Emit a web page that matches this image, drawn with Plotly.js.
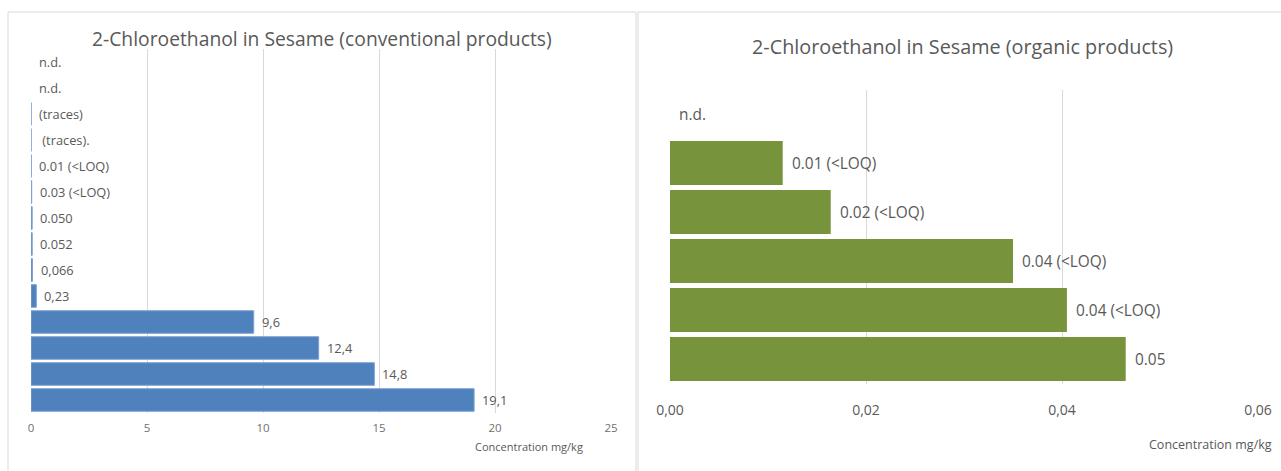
<!DOCTYPE html>
<html>
<head>
<meta charset="utf-8">
<script src="https://cdn.plot.ly/plotly-3.0.1.min.js"></script>
<style>
  html, body { margin: 0; padding: 0; background: #ffffff; }
  #chart { width: 1281px; height: 471px; }
</style>
</head>
<body>
<div id="chart"></div>
<script>
// Conventional sesame samples, top to bottom
const convLabels = ["n.d.", "n.d.", "(traces)", "\u00a0(traces).", "0.01 (<LOQ)", "0.03 (<LOQ)",
                    "0.050", "0.052", "0,066", "0,23", "9,6", "12,4", "14,8", "19,1"];
const convValues = [0, 0, 0.005, 0.005, 0.01, 0.03, 0.050, 0.052, 0.066, 0.23, 9.6, 12.4, 14.8, 19.1];

// Organic sesame samples, top to bottom
const orgLabels = ["n.d.", "0.01 (<LOQ)", "0.02 (<LOQ)", "0.04 (<LOQ)", "0.04 (<LOQ)", "0.05"];
const orgValues = [0, 0.0115, 0.0164, 0.0350, 0.0405, 0.0465];

const convTicks = [0, 5, 10, 15, 20, 25];
const orgTicks = [0, 0.02, 0.04, 0.06];

const titles = {
  conv: "2-Chloroethanol in Sesame (conventional products)",
  org: "2-Chloroethanol in Sesame (organic products)",
  axis: "Concentration mg/kg"
};

const W = 1281, H = 471;
const px = v => v / W;          // pixel -> paper x
const py = v => 1 - v / H;      // pixel -> paper y

const FONT = "Open Sans, Noto Sans, sans-serif";
const TXT = "#595959";
const GRID = "#d9d9d9";

const convIdx = convValues.map((_, i) => i);
const orgIdx = orgValues.map((_, i) => i);

const traces = [
  {
    type: "bar", orientation: "h",
    x: convValues, y: convIdx,
    xaxis: "x", yaxis: "y",
    width: 0.87,
    marker: {
      color: "#4F81BD",
      line: { color: "#7ea3d3", width: convValues.map(v => v > 0 ? 1 : 0) }
    },
    hoverinfo: "x"
  },
  {
    type: "bar", orientation: "h",
    x: orgValues, y: orgIdx,
    xaxis: "x2", yaxis: "y2",
    width: 0.9,
    marker: { color: "#77933C", line: { width: 0 } },
    hoverinfo: "x"
  }
];

const annotations = [];
convValues.forEach((v, i) => {
  annotations.push({
    x: v, y: i, xref: "x", yref: "y",
    text: convLabels[i], showarrow: false,
    xanchor: "left", yanchor: "middle", xshift: 6,
    font: { family: FONT, size: 12.8, color: TXT }
  });
});
orgValues.forEach((v, i) => {
  annotations.push({
    x: v, y: i, xref: "x2", yref: "y2",
    text: orgLabels[i], showarrow: false,
    xanchor: "left", yanchor: "middle", xshift: 7,
    font: { family: FONT, size: 15.4, color: TXT }
  });
});

// chart titles and axis captions
annotations.push(
  { x: px(322), y: py(39), xref: "paper", yref: "paper", text: titles.conv, showarrow: false,
    xanchor: "center", yanchor: "middle", font: { family: FONT, size: 19.3, color: TXT } },
  { x: px(963), y: py(47), xref: "paper", yref: "paper", text: titles.org, showarrow: false,
    xanchor: "center", yanchor: "middle", font: { family: FONT, size: 19.8, color: TXT } },
  { x: px(529), y: py(446), xref: "paper", yref: "paper", text: titles.axis, showarrow: false,
    xanchor: "center", yanchor: "middle", font: { family: FONT, size: 11, color: TXT } },
  { x: px(1274), y: py(444), xref: "paper", yref: "paper", text: titles.axis, showarrow: false,
    xanchor: "right", yanchor: "middle", font: { family: FONT, size: 12.5, color: TXT } }
);

const layout = {
  width: W, height: H,
  margin: { l: 0, r: 0, t: 0, b: 0, pad: 0 },
  paper_bgcolor: "#ffffff", plot_bgcolor: "#ffffff",
  showlegend: false,
  separators: ",.",
  font: { family: FONT, color: TXT },
  xaxis: {
    domain: [px(31), px(611)], range: [0, 25],
    tickvals: convTicks, tickformat: "d",
    showgrid: true, gridcolor: GRID, gridwidth: 1,
    zeroline: false, showline: false, ticks: "",
    ticklabelstandoff: 6,
    tickfont: { family: FONT, size: 11.5, color: "#6f6f6f" },
    fixedrange: true
  },
  yaxis: {
    domain: [py(413), py(49)], range: [convValues.length - 0.5, -0.5],
    showticklabels: false, showgrid: false, zeroline: false, showline: false, ticks: "",
    fixedrange: true
  },
  xaxis2: {
    domain: [px(670), px(1258)], range: [0, 0.06],
    tickvals: orgTicks, tickformat: ".2f",
    showgrid: true, gridcolor: GRID, gridwidth: 1,
    zeroline: false, showline: false, ticks: "",
    ticklabelstandoff: 16,
    tickfont: { family: FONT, size: 14, color: TXT },
    anchor: "y2", fixedrange: true
  },
  yaxis2: {
    domain: [py(383.5), py(89.5)], range: [orgValues.length - 0.5, -0.5],
    showticklabels: false, showgrid: false, zeroline: false, showline: false, ticks: "",
    anchor: "x2", fixedrange: true
  },
  shapes: [
    { type: "rect", xref: "paper", yref: "paper", x0: px(8), x1: px(636), y0: py(480), y1: py(12),
      line: { color: "#d9d9d9", width: 1 }, fillcolor: "rgba(0,0,0,0)", layer: "below" },
    { type: "rect", xref: "paper", yref: "paper", x0: px(638), x1: px(1295), y0: py(480), y1: py(12),
      line: { color: "#d9d9d9", width: 1 }, fillcolor: "rgba(0,0,0,0)", layer: "below" }
  ],
  annotations: annotations
};

Plotly.newPlot("chart", traces, layout, { displayModeBar: false, staticPlot: true });
</script>
</body>
</html>
